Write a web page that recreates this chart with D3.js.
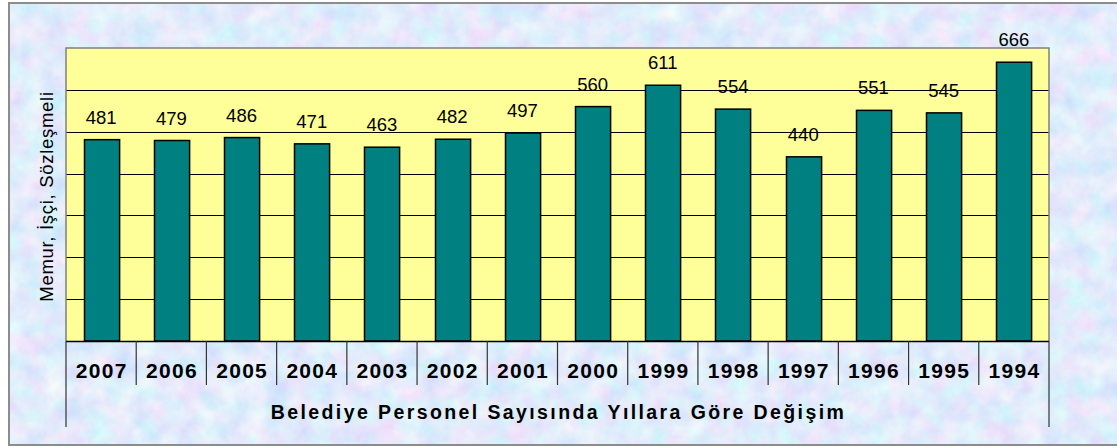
<!DOCTYPE html>
<html>
<head>
<meta charset="utf-8">
<script src="https://cdn.jsdelivr.net/npm/d3@7"></script>
<style>
	body { margin: 0; background: #fff; }
	svg { display: block; }
</style>
</head>
<body>
<svg id="chart" width="1117" height="448"></svg>
<script>
const years = ["2007", "2006", "2005", "2004", "2003", "2002", "2001", "2000", "1999", "1998", "1997", "1996", "1995", "1994"];
const staffCounts = [481, 479, 486, 471, 463, 482, 497, 560, 611, 554, 440, 551, 545, 666];
const yTicks = [0, 100, 200, 300, 400, 500, 600, 700];
const xTitle = "Belediye Personel Sayısında Yıllara Göre Değişim";
const yTitle = "Memur, İşçi, Sözleşmeli";

const svg = d3.select("#chart");
const plot = { left: 66, top: 48, right: 1049, bottom: 341 };
const font = "Liberation Sans, Arial, sans-serif";

// mottled pastel background like the original fill texture
const defs = svg.append("defs");
const filter = defs.append("filter").attr("id", "paper")
	.attr("x", 0).attr("y", 0).attr("width", "100%").attr("height", "100%");
filter.append("feTurbulence")
	.attr("type", "fractalNoise")
	.attr("baseFrequency", 0.045)
	.attr("numOctaves", 4)
	.attr("seed", 11);
filter.append("feColorMatrix")
	.attr("type", "matrix")
	.attr("values", "0.45 0 0 0 0.53  0 0.35 0 0 0.66  0 0 0 0 0.97  0 0 0 0 1");
filter.append("feComposite").attr("in2", "SourceGraphic").attr("operator", "in");

svg.append("rect")
	.attr("x", 9).attr("y", 3).attr("width", 1117).attr("height", 442)
	.attr("fill", "#cddcf5")
	.attr("filter", "url(#paper)");
svg.append("rect")
	.attr("x", 9).attr("y", 3).attr("width", 1117).attr("height", 442)
	.attr("fill", "none").attr("stroke", "#8c8c8c").attr("stroke-width", 2);

const x = d3.scaleBand()
	.domain(years)
	.range([plot.left, plot.right])
	.paddingInner(0.5)
	.paddingOuter(0.25);

const y = d3.scaleLinear()
	.domain([0, 700])
	.range([plot.bottom, plot.top]);

// plot area
svg.append("rect")
	.attr("x", plot.left).attr("y", plot.top)
	.attr("width", plot.right - plot.left).attr("height", plot.bottom - plot.top)
	.attr("fill", "#ffff99");

// gridlines
svg.append("g")
	.selectAll("line")
	.data(yTicks.slice(1, -1))
	.join("line")
	.attr("x1", plot.left).attr("x2", plot.right)
	.attr("y1", d => Math.round(y(d)) + 0.5).attr("y2", d => Math.round(y(d)) + 0.5)
	.attr("stroke", "#000").attr("stroke-width", 1);

// bars
svg.append("g")
	.selectAll("rect")
	.data(years)
	.join("rect")
	.attr("x", d => Math.round(x(d)) + 0.5)
	.attr("y", (d, i) => y(staffCounts[i]))
	.attr("width", x.bandwidth())
	.attr("height", (d, i) => y(0) - y(staffCounts[i]))
	.attr("fill", "#008080")
	.attr("stroke", "#000")
	.attr("stroke-width", 1.5);

// plot border (grey) on top/left/right
svg.append("path")
	.attr("d", `M${plot.left},${plot.bottom}V${plot.top}H${plot.right}V${plot.bottom}`)
	.attr("fill", "none").attr("stroke", "#808080").attr("stroke-width", 1.5);

// value labels
svg.append("g")
	.selectAll("text")
	.data(years)
	.join("text")
	.attr("x", d => x(d) + x.bandwidth() / 2)
	.attr("y", (d, i) => y(staffCounts[i]) - 16)
	.attr("text-anchor", "middle")
	.attr("font-family", font)
	.attr("font-size", 18.5)
	.attr("fill", "#000")
	.text((d, i) => staffCounts[i]);

// category axis with divider ticks
const bounds = d3.range(years.length + 1).map(i => plot.left + i * (plot.right - plot.left) / years.length);
svg.append("line")
	.attr("x1", plot.left).attr("x2", plot.right)
	.attr("y1", plot.bottom + 0.5).attr("y2", plot.bottom + 0.5)
	.attr("stroke", "#000").attr("stroke-width", 1.5);
svg.append("g")
	.selectAll("line")
	.data(bounds)
	.join("line")
	.attr("x1", d => d).attr("x2", d => d)
	.attr("y1", plot.bottom)
	.attr("y2", (d, i) => (i === 0 || i === years.length) ? 427 : 385)
	.attr("stroke", "#333").attr("stroke-width", 1.2);

svg.append("g")
	.selectAll("text")
	.data(years)
	.join("text")
	.attr("x", d => x(d) + x.bandwidth() / 2 + 0.6)
	.attr("y", 378)
	.attr("text-anchor", "middle")
	.attr("font-family", font)
	.attr("font-weight", "bold")
	.attr("font-size", 21)
	.attr("letter-spacing", 1.3)
	.text(d => d);

// axis titles
svg.append("text")
	.attr("x", (plot.left + plot.right) / 2 + 1)
	.attr("y", 419)
	.attr("text-anchor", "middle")
	.attr("font-family", font)
	.attr("font-weight", "bold")
	.attr("font-size", 19.5)
	.attr("letter-spacing", 2.4)
	.text(xTitle);

svg.append("text")
	.attr("transform", `translate(53,${(plot.top + plot.bottom) / 2 + 2}) rotate(-90)`)
	.attr("text-anchor", "middle")
	.attr("font-family", font)
	.attr("font-size", 18.5)
	.attr("letter-spacing", 0.7)
	.text(yTitle);
</script>
</body>
</html>
